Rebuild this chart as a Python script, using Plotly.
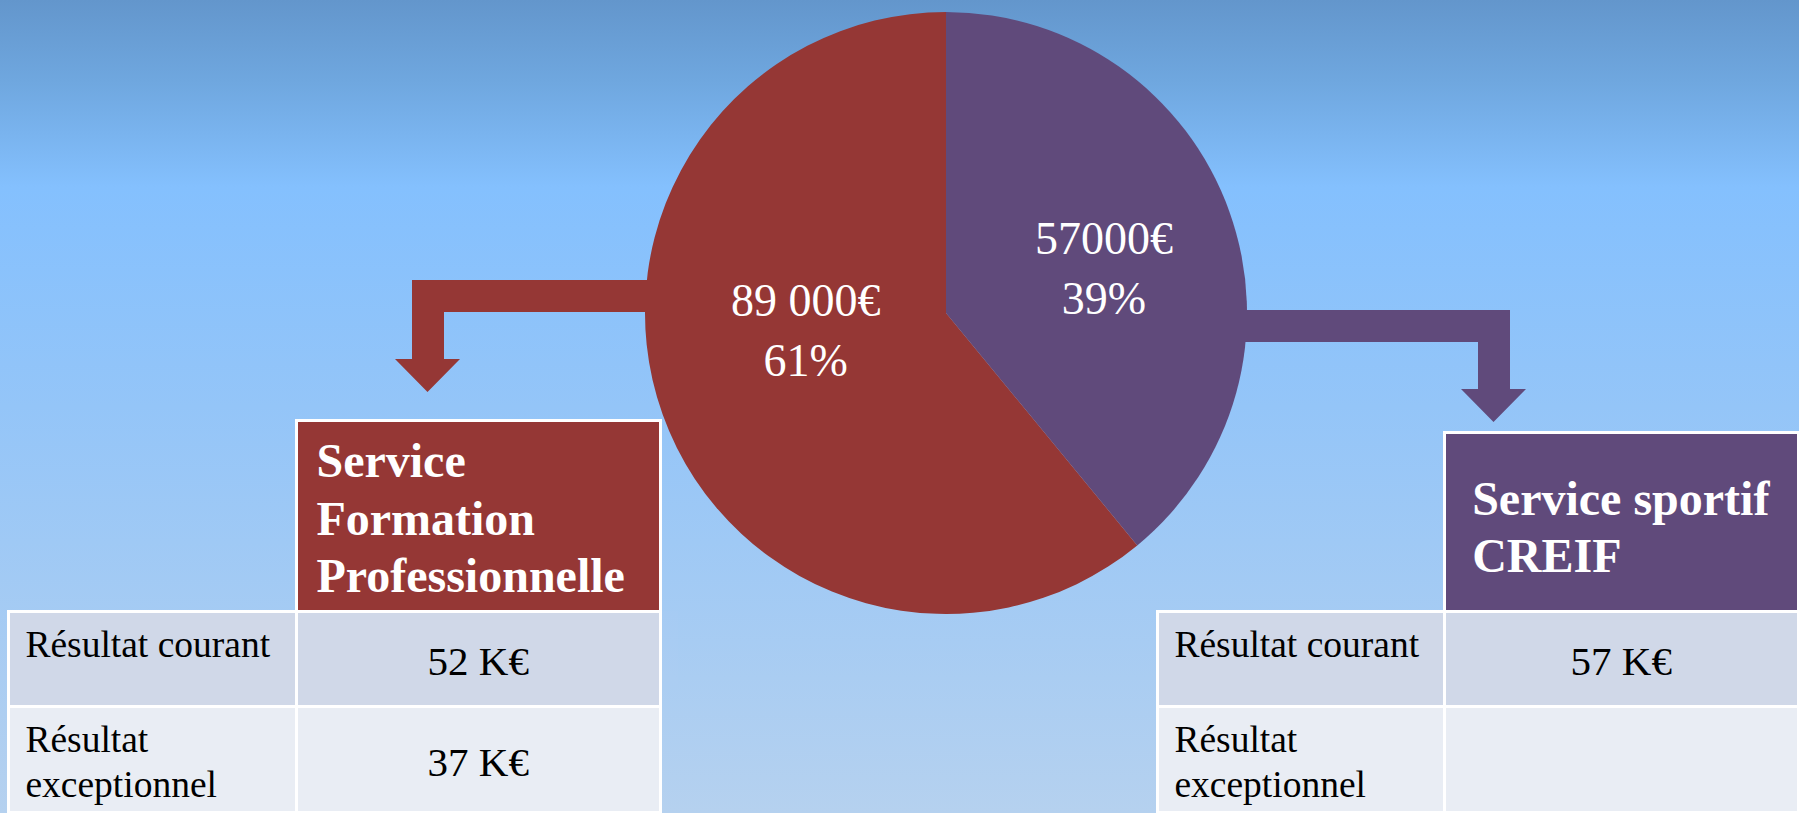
import plotly.graph_objects as go

W, H = 1799, 813

# ---- data ----
services = ["Service sportif CREIF", "Service Formation Professionnelle"]
amounts = [57000, 89000]
amount_labels = ["57000€", "89 000€"]
slice_colors = ["#604A7B", "#953735"]

row_labels = ["Résultat courant", "Résultat<br>exceptionnel"]
formation_header = "Service<br>Formation<br>Professionnelle"
formation_values = ["52 K€", "37 K€"]
sportif_header = "Service sportif<br>CREIF"
sportif_values = ["57 K€", ""]

FONT = "Liberation Serif"
NB = "\u00a0"


def px_x(p):
    return p / W


def px_y(p):
    return 1 - p / H


def span(text, size, indent=False, bold=False):
    t = f"{NB if indent else ''}{text or NB}"
    if bold:
        t = f"<b>{t}</b>"
    return f"<span style='font-size:{size}px'>{t}</span>"


def place(text, size, first, step, indent=False, bold=False):
    """Vertical placement inside table cells: a 1px anchor line at the top, then the
    cell base font is tiny so each <br> is a small fixed step; visible lines use a span font."""
    return span(NB, 1) + "<br>" * first + ("<br>" * step).join(
        span(ln, size, indent, bold) for ln in text.split("<br>"))


fig = go.Figure()

# background gradient
fig.add_trace(go.Scatter(
    x=[0, W, W, 0, 0], y=[0, 0, H, H, 0], mode="lines", fill="toself",
    line=dict(width=0),
    fillgradient=dict(type="vertical", start=0, stop=H,
                      colorscale=[[0, "#6396CC"], [0.1, "#6FA7DF"], [0.23, "#84C0FE"],
                                  [0.5, "#94C5F8"], [1, "#B5D1EF"]]),
    hoverinfo="skip", showlegend=False))

# pie
cx, cy, r = 946, 313, 301
fig.add_trace(go.Pie(
    labels=services, values=amounts, sort=False, direction="clockwise", rotation=0,
    marker=dict(colors=slice_colors, line=dict(width=0)),
    textinfo="none", hoverinfo="label+value+percent", showlegend=False,
    domain=dict(x=[px_x(cx - r), px_x(cx + r)], y=[px_y(cy + r), px_y(cy - r)])))

total = sum(amounts)
label_pos = [(1104, 268), (806, 330)]
for lab, v, (lx, ly) in zip(amount_labels, amounts, label_pos):
    fig.add_annotation(x=px_x(lx), y=px_y(ly), xref="paper", yref="paper",
                       text=f"{lab}<br>{round(100 * v / total)}%", showarrow=False,
                       font=dict(family=FONT, size=46, color="white"),
                       xanchor="center", yanchor="middle")

# arrows
left_arrow = [(652, 280), (412, 280), (412, 359), (395, 359), (427.5, 392), (460, 359),
              (444, 359), (444, 312), (652, 312)]
right_arrow = [(1240, 310), (1510, 310), (1510, 389), (1526, 389), (1493.5, 422),
               (1461, 389), (1478, 389), (1478, 342), (1240, 342)]
for pts, col in [(left_arrow, slice_colors[1]), (right_arrow, slice_colors[0])]:
    path = "M " + " L ".join(f"{px_x(a)},{px_y(b)}" for a, b in pts) + " Z"
    fig.add_shape(type="path", path=path, xref="paper", yref="paper",
                  fillcolor=col, line=dict(width=0), layer="above")

row_fill = ["#D0D8E8", "#E9EDF4"]
LAB, VAL, HDR = 37.5, 41, 48
LAB_BASE, VAL_BASE = 5.7, 4.7


def label_cells():
    return [place(row_labels[0], LAB, 5, 6, True), place(row_labels[1], LAB, 5, 6, True)]


def value_cells(vals):
    return [place(vals[0], VAL, 9, 1), place(vals[1], VAL, 10, 1)]


# left table
fig.add_trace(go.Table(
    domain=dict(x=[px_x(8), px_x(660)], y=[0, px_y(420)]),
    columnwidth=[288, 363],
    header=dict(values=["", place(formation_header, HDR, 5, 6, True, True)],
                fill=dict(color=["rgba(0,0,0,0)", slice_colors[1]]),
                line=dict(color=["rgba(0,0,0,0)", "white"], width=3),
                align=["left", "left"], height=191,
                font=dict(family=FONT, size=7.38, color="white")),
    cells=dict(values=[label_cells(), value_cells(formation_values)],
               fill=dict(color=[row_fill, row_fill]),
               line=dict(color="white", width=3),
               align=["left", "center"], height=95,
               font=dict(family=FONT, size=[LAB_BASE, VAL_BASE], color="black"))))

# right table
fig.add_trace(go.Table(
    domain=dict(x=[px_x(1157), 1], y=[0, px_y(432)]),
    columnwidth=[288, 354],
    header=dict(values=["", place(sportif_header, HDR, 9, 7, False, True)],
                fill=dict(color=["rgba(0,0,0,0)", slice_colors[0]]),
                line=dict(color=["rgba(0,0,0,0)", "white"], width=3),
                align=["left", "center"], height=179,
                font=dict(family=FONT, size=6.32, color="white")),
    cells=dict(values=[label_cells(), value_cells(sportif_values)],
               fill=dict(color=[row_fill, row_fill]),
               line=dict(color="white", width=3),
               align=["left", "center"], height=95,
               font=dict(family=FONT, size=[LAB_BASE, VAL_BASE], color="black"))))

fig.update_layout(
    width=W, height=H, margin=dict(l=0, r=0, t=0, b=0, pad=0),
    paper_bgcolor="#94C5F8", plot_bgcolor="rgba(0,0,0,0)",
    xaxis=dict(range=[0, W], visible=False, fixedrange=True, domain=[0, 1]),
    yaxis=dict(range=[H, 0], visible=False, fixedrange=True, domain=[0, 1]),
    showlegend=False)

fig.write_html("out.html", config={"displayModeBar": False},
               post_script="document.body.style.margin='0';document.body.style.overflow='hidden';")
